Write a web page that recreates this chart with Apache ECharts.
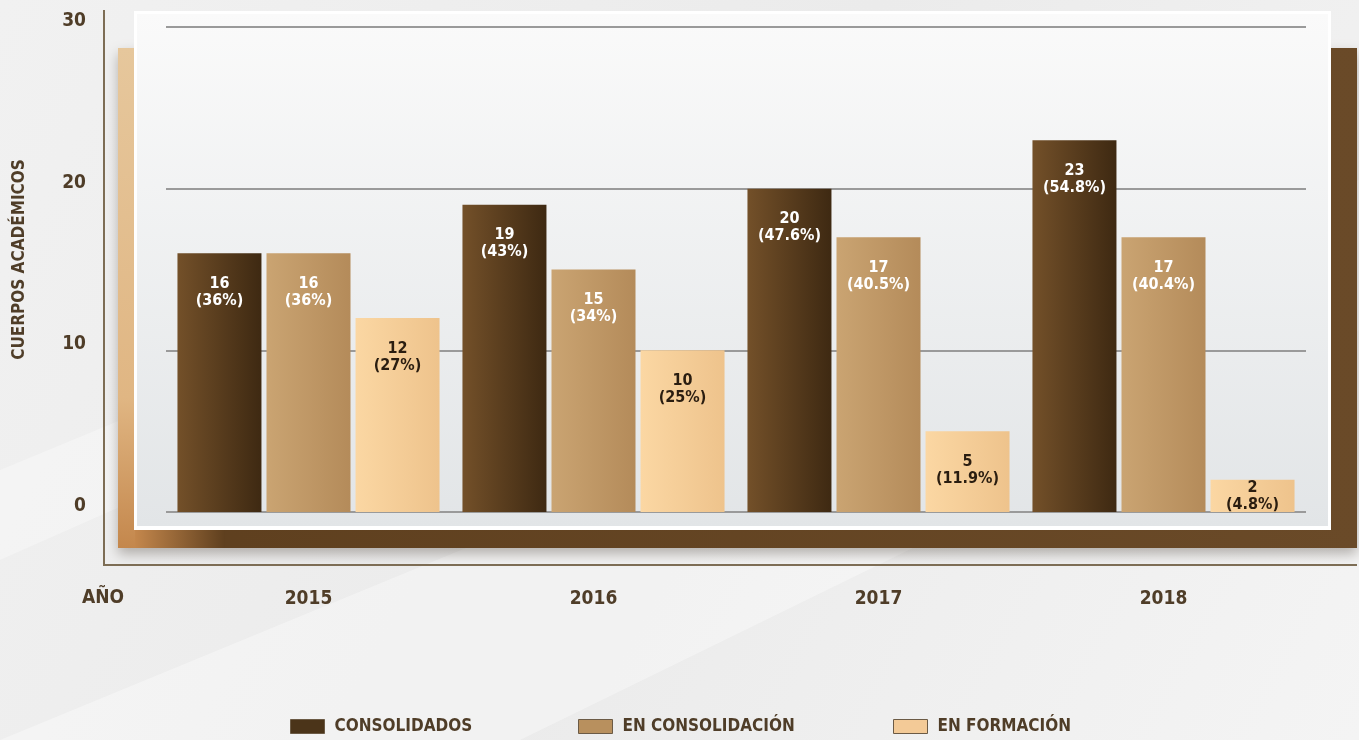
<!DOCTYPE html>
<html>
<head>
<meta charset="utf-8">
<script src="https://cdn.jsdelivr.net/npm/echarts@6/dist/echarts.min.js"></script>
<style>
html,body{margin:0;padding:0;width:1359px;height:740px;overflow:hidden;}
#c{width:1359px;height:740px;}
</style>
</head>
<body>
<div id="c"></div>
<script>
var years = ['2015', '2016', '2017', '2018'];
var seriesNames = ['CONSOLIDADOS', 'EN CONSOLIDACIÓN', 'EN FORMACIÓN'];
var consolidados = [16, 19, 20, 23];
var enConsolidacion = [16, 15, 17, 17];
var enFormacion = [12, 10, 5, 2];
var pctConsolidados = ['36%', '43%', '47.6%', '54.8%'];
var pctEnConsolidacion = ['36%', '34%', '40.5%', '40.4%'];
var pctEnFormacion = ['27%', '25%', '11.9%', '4.8%'];
var yTicks = [0, 10, 20, 30];

var FONT = '"DejaVu Sans Condensed", "Liberation Sans Narrow", sans-serif';
var TXT = '#4f3d28';

var chart = echarts.init(document.getElementById('c'), null, {renderer: 'canvas'});

function grad(a, b) {
  return new echarts.graphic.LinearGradient(0, 0, 1, 0, [{offset: 0, color: a}, {offset: 1, color: b}]);
}

var styles = [
  {color: grad('#735029', '#3e2912'), label: '#ffffff', legend: '#4b3419'},
  {color: grad('#caa472', '#b48b5a'), label: '#ffffff', legend: '#b8905e'},
  {color: grad('#fbd7a3', '#eec38c'), label: '#2a1d10', legend: '#f3ca97'}
];
var values = [consolidados, enConsolidacion, enFormacion];
var pcts = [pctConsolidados, pctEnConsolidacion, pctEnFormacion];

var series = seriesNames.map(function (name, si) {
  return {
    name: name,
    type: 'bar',
    barWidth: 84,
    barGap: '6%',
    itemStyle: {color: styles[si].color},
    label: {
      show: true,
      position: 'insideTop',
      color: styles[si].label,
      fontFamily: FONT,
      fontWeight: 'bold',
      fontSize: 16,
      lineHeight: 17,
      formatter: function (p) {
        return p.value + '\n(' + pcts[si][p.dataIndex] + ')';
      }
    },
    data: values[si].map(function (v) {
      return {value: v, label: {distance: v < 4 ? 0 : 22}};
    })
  };
});

var legendLefts = [285, 573, 888];
var legends = seriesNames.map(function (name, i) {
  return {
    left: legendLefts[i],
    top: 713,
    itemWidth: 34,
    itemHeight: 14,
    itemGap: 10,
    icon: 'rect',
    textStyle: {color: TXT, fontFamily: FONT, fontWeight: 'bold', fontSize: 17, padding: [0, 0, 0, 5]},
    data: [{name: name, itemStyle: {color: styles[i].legend, borderColor: '#6b5a45', borderWidth: 1}}]
  };
});

var option = {
  animation: false,
  backgroundColor: new echarts.graphic.LinearGradient(0, 0, 1, 1, [
    {offset: 0, color: '#f1f1f1'},
    {offset: 0.5, color: '#ebebeb'},
    {offset: 1, color: '#f4f4f4'}
  ]),
  grid: {left: 166, top: 27, width: 1140, bottom: 228, containLabel: false},
  legend: legends,
  xAxis: {
    type: 'category',
    data: years,
    axisLine: {show: false},
    axisTick: {show: false},
    axisLabel: {margin: 78, color: TXT, fontFamily: FONT, fontWeight: 'bold', fontSize: 19}
  },
  yAxis: {
    type: 'value',
    min: yTicks[0],
    max: yTicks[yTicks.length - 1],
    interval: 10,
    name: 'CUERPOS ACADÉMICOS',
    nameLocation: 'middle',
    nameRotate: 90,
    nameGap: 138,
    nameTextStyle: {color: TXT, fontFamily: FONT, fontWeight: 'bold', fontSize: 17, padding: [0, 0, 0, 20]},
    axisLine: {show: false},
    axisTick: {show: false},
    axisLabel: {margin: 80, color: TXT, fontFamily: FONT, fontWeight: 'bold', fontSize: 19, verticalAlign: 'bottom', lineHeight: 12},
    splitLine: {lineStyle: {color: '#9a9a9a', width: 2}}
  },
  graphic: [
    // light diagonal sweeps in background
    {type: 'polygon', z: -30, shape: {points: [[0, 740], [520, 740], [1359, 330], [1359, 180]]},
      style: {fill: 'rgba(255,255,255,0.35)'}},
    {type: 'polygon', z: -30, shape: {points: [[0, 470], [0, 560], [700, 250], [700, 180]]},
      style: {fill: 'rgba(255,255,255,0.3)'}},
    // brown back frame
    {type: 'rect', z: -20, shape: {x: 118, y: 48, width: 1239, height: 500},
      style: {fill: new echarts.graphic.LinearGradient(0, 0, 1, 0, [
        {offset: 0, color: '#5e3f1e'}, {offset: 1, color: '#6a4a28'}
      ]), shadowBlur: 12, shadowOffsetY: 6, shadowColor: 'rgba(60,50,40,0.35)'}},
    {type: 'rect', z: -19, shape: {x: 118, y: 48, width: 17, height: 500},
      style: {fill: new echarts.graphic.LinearGradient(0, 0, 0, 1, [
        {offset: 0, color: '#e6c79c'}, {offset: 0.7, color: '#e0b683'}, {offset: 1, color: '#c4874c'}
      ])}},
    {type: 'rect', z: -19, shape: {x: 135, y: 530, width: 90, height: 18},
      style: {fill: new echarts.graphic.LinearGradient(0, 0, 1, 0, [
        {offset: 0, color: '#c4874c'}, {offset: 1, color: '#5e3f1e'}
      ])}},
    // light front panel
    {type: 'rect', z: -15, shape: {x: 134, y: 11, width: 1197, height: 519},
      style: {fill: '#ffffff'}},
    {type: 'rect', z: -14, shape: {x: 137, y: 14, width: 1191, height: 512},
      style: {fill: new echarts.graphic.LinearGradient(0, 0, 0, 1, [
        {offset: 0, color: '#fafafa'}, {offset: 1, color: '#e2e5e7'}
      ])}},
    // axis lines
    {type: 'line', z: -5, shape: {x1: 104, y1: 10, x2: 104, y2: 566},
      style: {stroke: '#7d6d55', lineWidth: 2}},
    {type: 'line', z: -5, shape: {x1: 103, y1: 565, x2: 1357, y2: 565},
      style: {stroke: '#7d6d55', lineWidth: 2}},
    // x axis name
    {type: 'text', z: 5, left: 82, top: 589,
      style: {text: 'AÑO', fill: TXT, font: 'bold 19px ' + FONT}}
  ],
  series: series
};
chart.setOption(option);
</script>
</body>
</html>
